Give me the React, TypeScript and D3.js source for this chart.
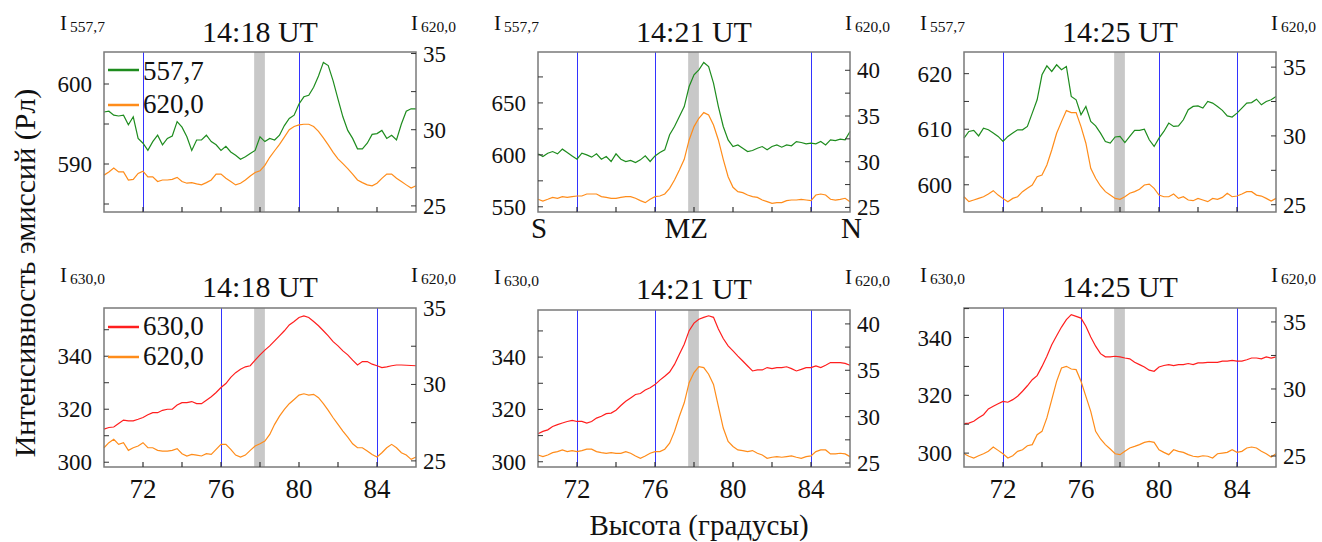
import React from 'react'
import * as d3 from 'd3'

// altitude grid, degrees (70..86 step 0.25)
const alt = d3.range(65).map(i => 70 + i * 0.25)

const g1418 = [596.5, 596.6, 596.1, 596.0, 596.1, 594.9, 595.9, 593.2, 592.6, 591.7, 592.8, 593.6, 592.4, 593.2, 593.5, 595.3, 594.6, 593.4, 591.7, 593.0, 593.0, 593.6, 592.8, 592.4, 591.7, 592.2, 591.5, 591.1, 590.6, 590.9, 591.3, 591.7, 593.4, 592.8, 593.2, 593.0, 593.6, 594.8, 595.7, 596.1, 597.5, 598.4, 598.6, 599.6, 601.0, 602.7, 602.3, 600.4, 598.1, 595.9, 594.2, 593.2, 591.9, 591.9, 592.6, 593.7, 593.8, 594.2, 593.2, 593.6, 593.0, 595.0, 596.6, 596.9, 596.9]
const o1418a = [27.02, 27.23, 27.49, 27.23, 27.23, 26.7, 26.74, 27.13, 27.28, 26.91, 26.91, 26.6, 26.7, 26.7, 26.74, 26.87, 26.6, 26.49, 26.53, 26.45, 26.38, 26.53, 26.7, 27.09, 27.09, 26.81, 26.6, 26.38, 26.49, 26.7, 26.96, 27.19, 27.3, 27.66, 28.19, 28.62, 29.04, 29.51, 30.0, 30.21, 30.32, 30.36, 30.36, 30.21, 29.89, 29.47, 29.0, 28.51, 28.09, 27.77, 27.45, 27.09, 26.7, 26.53, 26.38, 26.32, 26.49, 26.81, 27.09, 27.09, 26.81, 26.6, 26.38, 26.17, 26.32]
const r1418 = [312.5, 313.1, 313.3, 314.6, 315.9, 315.6, 315.6, 316.2, 316.9, 317.9, 318.7, 318.7, 319.6, 320.0, 320.0, 321.6, 322.5, 322.5, 322.9, 322.1, 322.1, 323.4, 324.7, 326.3, 328.2, 329.7, 332.0, 333.8, 335.1, 336.0, 336.4, 338.5, 340.5, 342.3, 343.9, 345.8, 347.7, 349.6, 351.8, 353.1, 354.6, 355.2, 354.6, 353.1, 351.5, 349.6, 347.7, 345.5, 343.9, 342.0, 340.5, 338.5, 336.7, 338.0, 338.0, 337.0, 336.4, 335.7, 336.0, 336.4, 336.7, 336.7, 336.6, 336.5, 336.4]
const o1418b = [25.86, 26.19, 26.41, 26.08, 26.19, 25.69, 25.86, 25.97, 26.19, 25.86, 25.86, 25.69, 25.64, 25.64, 25.69, 25.8, 25.47, 25.32, 25.42, 25.38, 25.32, 25.47, 25.42, 25.75, 26.08, 26.08, 25.75, 25.38, 25.25, 25.38, 25.69, 25.97, 26.12, 26.3, 26.73, 27.39, 27.93, 28.37, 28.74, 29.02, 29.3, 29.39, 29.3, 29.35, 29.13, 28.74, 28.3, 27.82, 27.39, 26.95, 26.56, 26.12, 25.86, 25.86, 25.64, 25.42, 25.25, 25.53, 25.86, 26.08, 25.86, 25.53, 25.38, 25.1, 25.25]

const g1421 = [601.0, 598.4, 601.6, 603.2, 601.0, 605.5, 602.3, 599.0, 595.8, 601.6, 600.0, 597.8, 601.0, 595.8, 598.4, 593.6, 601.0, 595.8, 593.6, 594.6, 592.6, 595.2, 599.0, 593.6, 599.0, 602.3, 604.8, 619.3, 627.3, 636.9, 646.5, 665.8, 677.0, 681.8, 688.9, 685.0, 669.0, 646.5, 627.3, 614.4, 608.0, 609.6, 606.4, 603.2, 604.2, 606.4, 608.0, 604.8, 608.0, 609.6, 607.4, 609.6, 608.7, 612.8, 611.9, 610.6, 611.2, 610.6, 612.8, 609.6, 614.4, 613.8, 615.1, 614.4, 622.5]
const o1421a = [25.89, 25.7, 25.89, 26.1, 26.0, 26.18, 26.1, 26.18, 26.25, 26.25, 26.47, 26.47, 26.47, 26.18, 26.1, 26.0, 26.0, 26.1, 26.18, 26.18, 26.0, 25.74, 25.52, 25.89, 26.18, 26.25, 26.47, 27.09, 28.0, 29.09, 30.26, 32.38, 33.84, 34.75, 35.37, 35.11, 34.02, 32.38, 30.26, 28.36, 27.2, 26.72, 26.62, 26.36, 26.18, 26.1, 25.81, 25.63, 25.45, 25.52, 25.52, 25.74, 25.81, 25.81, 25.89, 25.81, 25.74, 26.36, 26.47, 26.36, 25.89, 25.81, 25.89, 26.0, 25.63]
const r1421 = [310.7, 311.6, 312.2, 313.5, 314.2, 314.8, 315.4, 315.8, 315.4, 315.4, 314.8, 315.4, 316.7, 317.4, 318.4, 318.6, 319.7, 321.5, 323.1, 324.4, 325.7, 326.1, 327.4, 328.3, 329.5, 331.2, 332.7, 334.3, 337.2, 341.1, 344.9, 350.1, 353.0, 354.5, 355.2, 355.8, 355.2, 350.7, 347.1, 344.3, 342.4, 340.4, 338.5, 336.6, 334.7, 335.1, 335.1, 336.0, 335.6, 336.0, 336.0, 336.3, 335.6, 334.7, 335.3, 336.0, 336.0, 336.6, 336.0, 336.9, 337.9, 337.9, 337.9, 337.6, 336.9]
const o1421b = [25.87, 25.69, 25.87, 26.12, 26.23, 26.41, 26.23, 26.34, 26.23, 26.34, 26.49, 26.49, 26.23, 26.12, 26.05, 26.12, 26.05, 26.05, 26.23, 26.05, 25.76, 25.51, 25.76, 26.05, 26.23, 26.23, 26.49, 27.14, 28.41, 30.04, 31.49, 33.66, 34.75, 35.4, 35.29, 34.57, 33.48, 31.12, 28.77, 27.32, 26.78, 26.41, 26.34, 26.23, 26.34, 26.05, 25.87, 25.51, 25.62, 25.69, 25.62, 25.69, 25.76, 25.62, 25.51, 25.69, 25.76, 26.23, 26.41, 26.41, 25.98, 25.98, 26.05, 25.98, 25.69]

const g1425 = [608.4, 609.6, 609.8, 608.8, 610.2, 609.9, 609.3, 608.7, 607.8, 608.7, 609.3, 609.9, 609.9, 610.5, 612.9, 615.3, 619.8, 621.4, 620.4, 621.6, 620.7, 621.3, 615.9, 615.3, 612.6, 614.1, 611.4, 610.6, 609.3, 607.8, 607.5, 608.6, 608.7, 607.6, 608.7, 609.8, 609.8, 610.0, 608.1, 606.9, 608.4, 609.6, 611.1, 610.5, 610.6, 611.7, 613.5, 614.1, 614.2, 613.8, 615.0, 614.7, 614.1, 613.4, 612.4, 612.2, 612.9, 613.8, 614.7, 614.8, 615.4, 614.4, 615.0, 615.3, 615.9]
const o1425a = [25.58, 25.22, 25.34, 25.46, 25.58, 25.78, 26.02, 25.7, 25.46, 25.22, 25.46, 25.58, 25.95, 26.19, 26.43, 27.04, 27.16, 27.89, 28.98, 30.19, 31.04, 31.84, 31.7, 31.7, 30.68, 29.47, 27.65, 26.92, 26.36, 25.95, 25.7, 25.46, 25.39, 25.58, 25.83, 25.95, 26.12, 26.43, 26.5, 26.19, 25.7, 25.58, 25.58, 25.78, 25.46, 25.58, 25.34, 25.29, 25.46, 25.34, 25.22, 25.46, 25.39, 25.53, 25.83, 25.58, 25.63, 25.78, 25.95, 25.95, 25.7, 25.63, 25.46, 25.27, 25.46]
const r1425 = [310.2, 310.4, 311.0, 312.2, 313.3, 315.3, 316.2, 317.1, 317.9, 317.6, 318.5, 319.7, 321.4, 323.3, 325.4, 326.8, 330.0, 333.5, 337.5, 340.6, 343.6, 346.2, 347.9, 347.3, 346.7, 343.9, 340.2, 337.0, 334.4, 333.3, 333.3, 333.5, 333.3, 332.9, 332.6, 331.4, 330.6, 329.8, 328.7, 328.3, 329.8, 330.3, 330.6, 330.3, 330.6, 330.6, 331.0, 330.6, 331.2, 331.2, 331.4, 331.4, 331.4, 331.8, 331.8, 332.1, 331.8, 331.8, 332.3, 332.9, 332.9, 332.6, 333.3, 332.9, 333.3]
const o1425b = [25.17, 24.98, 24.85, 25.02, 25.17, 25.35, 25.67, 25.42, 25.17, 24.85, 25.02, 25.35, 25.47, 25.77, 25.85, 26.59, 26.84, 27.84, 29.2, 30.57, 31.57, 31.69, 31.49, 31.44, 30.57, 29.45, 28.33, 26.84, 26.27, 25.85, 25.52, 25.17, 25.1, 25.35, 25.6, 25.72, 25.85, 26.02, 26.09, 26.02, 25.47, 25.27, 25.1, 25.47, 25.35, 25.27, 25.1, 24.98, 24.93, 25.02, 24.98, 24.85, 25.17, 25.22, 25.27, 25.47, 25.27, 25.35, 25.6, 25.67, 25.6, 25.35, 25.17, 24.93, 25.17]

const times = ['14:18 UT', '14:21 UT', '14:25 UT']
const band = [77.7, 78.25]

const GREEN = '#1e8c1e'
const ORANGE = '#ff8c1a'
const RED = '#ff1e1e'
const BLUE = '#3333ff'
const FONT = 'Liberation Serif'

const panels = [
  { t: 0, x: 104, y: 52, h: 160, main: g1418, other: o1418a, mainColor: GREEN, line: '557,7',
    lDom: [584, 604], lTicks: [590, 600], lStep: 5, rDom: [24.6, 35.1], rTicks: [25, 30, 35], marks: [72, 80], legend: true },
  { t: 1, x: 538, y: 52, h: 160, main: g1421, other: o1421a, mainColor: GREEN, line: '557,7',
    lDom: [545, 699], lTicks: [550, 600, 650], lStep: 25, rDom: [24.5, 42], rTicks: [25, 30, 35, 40], marks: [72, 76, 84], zenith: true },
  { t: 2, x: 964, y: 52, h: 160, main: g1425, other: o1425a, mainColor: GREEN, line: '557,7',
    lDom: [595.1, 623.9], lTicks: [600, 610, 620], lStep: 5, rDom: [24.47, 36.1], rTicks: [25, 30, 35], marks: [72, 80, 84] },
  { t: 0, x: 104, y: 308, h: 159, main: r1418, other: o1418b, mainColor: RED, line: '630,0',
    lDom: [298.2, 358.2], lTicks: [300, 320, 340], lStep: 10, rDom: [24.6, 35], rTicks: [25, 30, 35], marks: [76, 84], legend: true, xLabels: true },
  { t: 1, x: 538, y: 310, h: 157, main: r1421, other: o1421b, mainColor: RED, line: '630,0',
    lDom: [298, 358], lTicks: [300, 320, 340], lStep: 10, rDom: [24.57, 41.5], rTicks: [25, 30, 35, 40], marks: [72, 76, 84], xLabels: true },
  { t: 2, x: 964, y: 308, h: 159, main: r1425, other: o1425b, mainColor: RED, line: '630,0',
    lDom: [295.2, 350.2], lTicks: [300, 320, 340], lStep: 10, rDom: [24.18, 36.04], rTicks: [25, 30, 35], marks: [72, 76, 84], xLabels: true }
]

const PW = 312

// every text gets the font directly
function T(props: any) {
  return <text fontFamily={FONT} fill='#111' {...props} />
}

function Panel({ p }: { p: any }) {
  const x = d3.scaleLinear().domain([70, 86]).range([0, PW])
  const yl = d3.scaleLinear().domain(p.lDom).range([p.h, 0])
  const yr = d3.scaleLinear().domain(p.rDom).range([p.h, 0])
  const lineL = d3.line<number>().x((d, i) => x(alt[i])).y(d => yl(d))
  const lineR = d3.line<number>().x((d, i) => x(alt[i])).y(d => yr(d))
  const lMinor = d3.range(Math.ceil(p.lDom[0] / p.lStep) * p.lStep, p.lDom[1], p.lStep)
  const rMinor = d3.range(25, p.rDom[1], 2.5)
  const xTicks = d3.range(72, 86, 2)
  const top = p.y < 100
  const subBase = top ? -22 : -26
  return (
    <g transform={`translate(${p.x},${p.y})`}>
      <T x={PW / 2} y={top ? -10 : -11} textAnchor='middle' fontSize={30}>{times[p.t]}</T>
      <T x={-44} y={subBase} fontSize={21}>I<tspan fontSize={15.5} dx={3} dy={2}>{p.line}</tspan></T>
      <T x={PW - 5} y={subBase} fontSize={21}>I<tspan fontSize={15.5} dx={3} dy={2}>620,0</tspan></T>

      <rect x={x(band[0])} width={x(band[1]) - x(band[0])} y={0} height={p.h} fill='#c8c8c8' />
      {p.marks.map((m: number) => (
        <line key={m} x1={Math.round(x(m)) + 0.5} x2={Math.round(x(m)) + 0.5} y1={0} y2={p.h} stroke={BLUE} strokeWidth={1} />
      ))}

      <path d={lineR(p.other) || ''} fill='none' stroke={ORANGE} strokeWidth={1.2} />
      <path d={lineL(p.main) || ''} fill='none' stroke={p.mainColor} strokeWidth={1.2} />

      <rect x={0} y={0} width={PW} height={p.h} fill='none' stroke='#7a7a7a' strokeWidth={1.5} />

      {lMinor.map((v: number) => (
        <line key={'l' + v} x1={0} x2={5} y1={yl(v)} y2={yl(v)} stroke='#333' strokeWidth={1} />
      ))}
      {rMinor.map((v: number) => (
        <line key={'r' + v} x1={PW - 5} x2={PW} y1={yr(v)} y2={yr(v)} stroke='#333' strokeWidth={1} />
      ))}
      {xTicks.map(v => (
        <line key={'x' + v} x1={x(v)} x2={x(v)} y1={p.h} y2={p.h - 5} stroke='#333' strokeWidth={1.2} />
      ))}

      {p.lTicks.map((v: number) => (
        <T key={'lt' + v} x={-12} y={yl(v)} dy='0.35em' textAnchor='end' fontSize={23}>{v}</T>
      ))}
      {p.rTicks.map((v: number) => (
        <T key={'rt' + v} x={PW + 7} y={yr(v)} dy='0.35em' fontSize={23}>{v}</T>
      ))}

      {p.xLabels && [72, 76, 80, 84].map(v => (
        <T key={'xl' + v} x={x(v)} y={p.h + 31} textAnchor='middle' fontSize={27}>{v}</T>
      ))}
      {p.zenith && (
        <g>
          <T x={-7} y={p.h + 26} fontSize={29}>S</T>
          <T x={x(77.6)} y={p.h + 26} textAnchor='middle' fontSize={29}>MZ</T>
          <T x={PW + 12} y={p.h + 26} textAnchor='end' fontSize={29}>N</T>
        </g>
      )}

      {p.legend && (
        <g>
          <line x1={4} x2={35} y1={top ? 18 : 19} y2={top ? 18 : 19} stroke={p.mainColor} strokeWidth={2.5} />
          <T x={39} y={top ? 28 : 27} fontSize={27}>{p.line}</T>
          <line x1={4} x2={35} y1={top ? 53 : 49} y2={top ? 53 : 49} stroke={ORANGE} strokeWidth={2.5} />
          <T x={39} y={top ? 61 : 57} fontSize={27}>620,0</T>
        </g>
      )}
    </g>
  )
}

export default function App() {
  return (
    <svg width={1322} height={542} style={{ position: 'absolute', left: 0, top: 0, background: '#fff' }}>
      {panels.map((p, i) => <Panel key={i} p={p} />)}
      <T transform='translate(35,273) rotate(-90)' textAnchor='middle' fontSize={30}>Интенсивность эмиссий (Рл)</T>
      <T x={699} y={535} textAnchor='middle' fontSize={29}>Высота (градусы)</T>
    </svg>
  )
}
